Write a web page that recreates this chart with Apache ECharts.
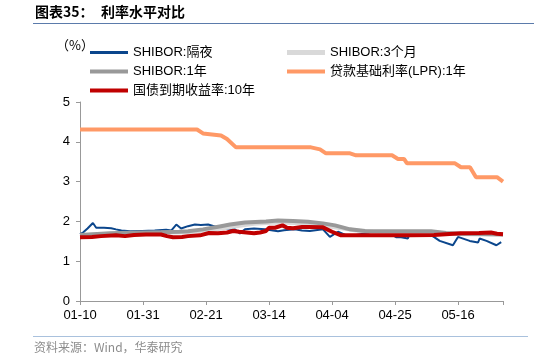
<!DOCTYPE html>
<html>
<head>
<meta charset="utf-8">
<script src="https://cdn.jsdelivr.net/npm/echarts@6/dist/echarts.min.js"></script>
<style>html,body{margin:0;padding:0;background:#fff}#c{width:534px;height:361px}</style>
</head>
<body>
<div id="c"></div>
<script>
// x = calendar days after 01-10
const tickLabels = ['01-10','01-31','02-21','03-14','04-04','04-25','05-16'];
const seriesNames = ['SHIBOR:隔夜','SHIBOR:3个月','SHIBOR:1年','贷款基础利率(LPR):1年','国债到期收益率:10年'];

const shiborON = [[0,1.68],[1,1.72],[2.5,1.82],[4.3,1.96],[5.4,1.84],[8,1.84],[10.4,1.83],[12,1.80],[13.8,1.77],[16.7,1.75],[20.7,1.76],[24.9,1.77],[28.7,1.79],[30.4,1.77],[32.1,1.92],[33.7,1.82],[36,1.88],[38.3,1.92],[40.3,1.91],[42.7,1.92],[46.1,1.85],[48.9,1.82],[51.6,1.80],[53.3,1.70],[55,1.80],[58,1.82],[61.6,1.80],[66,1.75],[68,1.78],[71.6,1.80],[74,1.77],[76.6,1.76],[81,1.80],[83.3,1.61],[86,1.74],[89.4,1.63],[92,1.66],[95.5,1.70],[97,1.66],[99.9,1.65],[103.2,1.70],[105.5,1.60],[106.6,1.61],[109.3,1.57],[109.9,1.70],[113,1.66],[117.1,1.65],[118.2,1.60],[119.9,1.51],[124.3,1.40],[126,1.61],[129.9,1.51],[132.7,1.47],[133.2,1.57],[135.5,1.51],[138.8,1.40],[140.4,1.48]];
const shibor3M = [[0,1.65],[10,1.69],[20,1.71],[30,1.72],[36,1.73],[40,1.76],[46,1.81],[52,1.88],[58,1.94],[65,1.97],[72,1.96],[80,1.90],[86,1.84],[92,1.77],[100,1.72],[110,1.70],[120,1.69],[130,1.68],[141,1.66]];
const shibor1Y = [[0,1.66],[10,1.70],[20,1.72],[27,1.73],[33,1.74],[36,1.75],[41,1.80],[47,1.88],[50,1.92],[55,1.97],[62,2.00],[66,2.02],[71,2.01],[76,1.99],[81,1.95],[85,1.90],[90,1.80],[95,1.76],[107,1.75],[117,1.75],[122,1.71],[127,1.69],[141,1.68]];
const lpr1Y = [[0,4.31],[39,4.31],[41,4.21],[47,4.16],[49,4.07],[52,3.86],[77,3.86],[80,3.81],[82,3.71],[90,3.71],[92,3.66],[104,3.66],[106,3.57],[108,3.57],[109,3.46],[125,3.46],[127,3.36],[130,3.36],[132,3.11],[139,3.11],[141,3.00]];
const cgb10Y = [[0,1.60],[4,1.61],[7,1.63],[12,1.65],[15,1.63],[18,1.66],[22,1.67],[27,1.67],[29,1.63],[31,1.60],[34,1.61],[36,1.63],[40,1.65],[43,1.71],[46,1.70],[49,1.72],[51,1.76],[53,1.74],[58,1.70],[60,1.72],[62,1.76],[63,1.84],[65,1.84],[67.5,1.90],[69,1.84],[71,1.83],[74,1.86],[76,1.86],[81,1.85],[84,1.74],[87,1.65],[95,1.65],[110,1.65],[118,1.66],[127,1.70],[133,1.71],[137,1.72],[139,1.69],[141,1.68]];

const colors = ['#0b468c','#d9d9d9','#999999','#ff9966','#c00000'];
const widths = [2,4,4,4,4];
const datas = [shiborON, shibor3M, shibor1Y, lpr1Y, cgb10Y];

const chart = echarts.init(document.getElementById('c'));
const legendPos = [[90,46],[287,46],[90,65],[287,65],[90,84]];
const legendH = [3,5,4,4,4];
const font = 'Liberation Sans, Arial, Noto Sans CJK SC, sans-serif';

chart.setOption({
  animation: false,
  textStyle: {fontFamily: font},
  grid: {left: 80, right: 31, top: 102, bottom: 60},
  legend: seriesNames.map((n, i) => ({
    data: [n], left: legendPos[i][0], top: legendPos[i][1],
    icon: 'rect', itemWidth: 38, itemHeight: legendH[i], itemGap: 5,
    textStyle: {fontSize: 13, color: '#000', fontFamily: font, padding: [0,0,0,0]},
    padding: 0
  })),
  xAxis: {
    type: 'value', min: 0, max: 141, interval: 21,
    axisLine: {lineStyle: {color: '#999', width: 1}},
    axisTick: {show: true, length: 4, lineStyle: {color: '#999'}},
    splitLine: {show: false},
    axisLabel: {fontSize: 13, color: '#000', margin: 8,
      formatter: v => { const k = Math.round(v / 21); return (Math.abs(v - k*21) < 0.01 && tickLabels[k]) ? tickLabels[k] : ''; }}
  },
  yAxis: {
    type: 'value', min: 0, max: 5, interval: 1,
    axisLine: {show: true, lineStyle: {color: '#999', width: 1}},
    axisTick: {show: true, length: 4, lineStyle: {color: '#999'}},
    splitLine: {show: false},
    axisLabel: {fontSize: 13, color: '#000', margin: 10}
  },
  series: seriesNames.map((n, i) => ({
    name: n, type: 'line', data: datas[i], symbol: 'none', z: 2 + i,
    lineStyle: {color: colors[i], width: widths[i]}, itemStyle: {color: colors[i]}
  })),
  graphic: [
    {type: 'text', left: 35, top: 5, style: {text: '图表35：', font: 'bold 14px "Noto Sans CJK SC", sans-serif', fill: '#000'}},
    {type: 'text', left: 101, top: 5, style: {text: '利率水平对比', font: 'bold 14px "Noto Sans CJK SC", sans-serif', fill: '#000'}},
    {type: 'line', shape: {x1: 33, y1: 23.5, x2: 534, y2: 23.5}, style: {stroke: '#5b7bab', lineWidth: 1}},
    {type: 'text', left: 56, top: 39, style: {text: '（%）', font: '13px "Noto Sans CJK SC", sans-serif', fill: '#000'}},
    {type: 'line', shape: {x1: 33, y1: 336.5, x2: 528, y2: 336.5}, style: {stroke: '#a9c1dd', lineWidth: 1}},
    {type: 'text', left: 34, top: 341, style: {text: '资料来源：Wind，华泰研究', font: '12px "Noto Sans CJK SC", sans-serif', fill: '#8c8c8c'}}
  ]
});
</script>
</body>
</html>
